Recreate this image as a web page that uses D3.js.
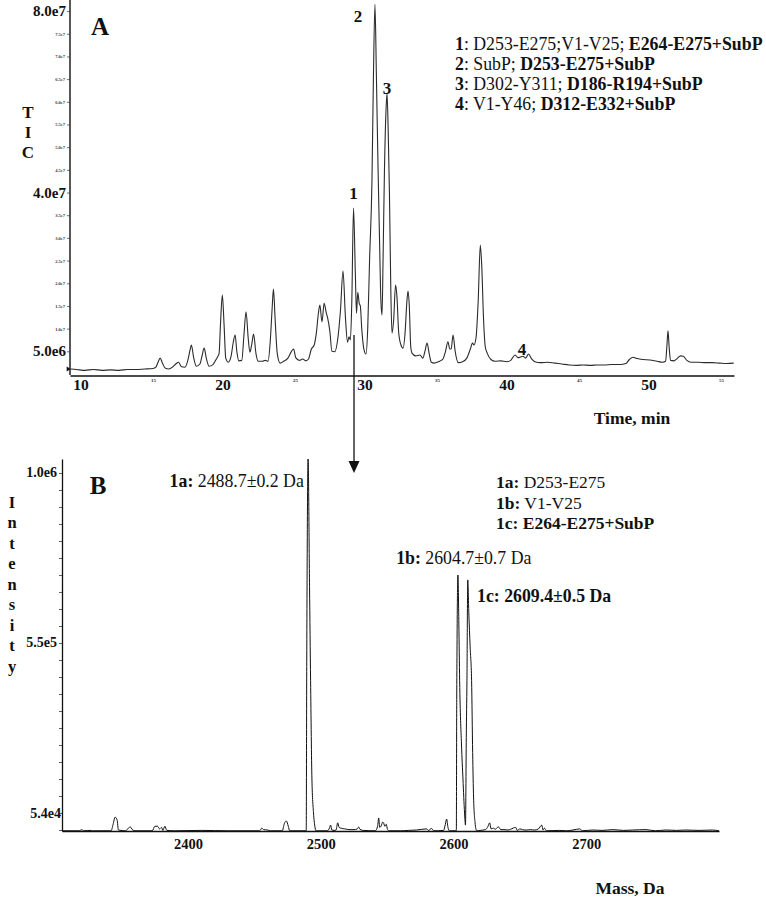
<!DOCTYPE html>
<html><head><meta charset="utf-8">
<script src="https://cdn.jsdelivr.net/npm/d3@7"></script>
<style>
html,body{margin:0;padding:0;background:#fff;}
svg{display:block;}
</style></head><body>
<svg id="c" width="766" height="899"></svg>
<script>
// ---------- Panel A: TIC chromatogram ----------
const ticTime = [9.2,9.6,10.2,10.8,11.4,12.0,12.6,13.2,13.8,14.4,15.0,15.2,15.35,15.5,15.65,15.85,16.1,16.4,16.6,16.8,17.0,17.25,17.45,17.6,17.7,17.85,18.05,18.3,18.45,18.6,18.75,18.95,19.2,19.4,19.55,19.65,19.75,19.88,20.0,20.12,20.3,20.5,20.65,20.78,20.9,21.05,21.25,21.4,21.55,21.7,21.82,21.95,22.08,22.25,22.4,22.7,22.9,23.1,23.25,23.38,23.48,23.6,23.75,23.95,24.2,24.5,24.75,24.9,25.05,25.3,25.55,25.75,25.95,26.15,26.35,26.5,26.65,26.75,26.9,27.05,27.2,27.3,27.45,27.6,27.8,28.0,28.2,28.38,28.55,28.7,28.8,28.9,29.0,29.12,29.25,29.33,29.42,29.52,29.6,29.7,29.85,30.0,30.12,30.25,30.42,30.52,30.63,30.73,30.85,30.95,31.05,31.13,31.2,31.3,31.42,31.48,31.56,31.65,31.75,31.83,31.95,32.08,32.18,32.3,32.45,32.61,32.75,32.88,32.96,33.05,33.15,33.24,33.5,33.8,34.0,34.15,34.3,34.45,34.6,34.8,35.1,35.4,35.6,35.77,35.9,36.0,36.13,36.28,36.5,36.8,37.1,37.35,37.5,37.6,37.75,37.9,38.05,38.15,38.28,38.4,38.55,38.8,39.1,39.5,39.9,40.2,40.35,40.5,40.7,40.85,41.05,41.25,41.45,41.65,41.9,42.3,42.8,43.3,43.8,44.3,44.8,45.3,45.8,46.3,46.8,47.3,47.9,48.3,48.55,48.8,49.1,49.5,50.0,50.5,50.9,51.1,51.2,51.27,51.35,51.45,51.7,51.95,52.15,52.35,52.6,52.9,53.4,53.9,54.4,54.9,55.4,55.9];
// intensity in units of 1e6 counts
const ticIntensity = [1.1,1.0,0.8,1.0,0.8,0.9,0.8,1.0,1.0,1.1,1.2,1.5,2.6,3.5,2.5,1.3,1.1,1.6,2.2,2.6,1.6,1.5,3.0,5.2,6.4,3.8,1.7,2.2,4.0,5.7,3.5,1.7,2.0,3.0,3.8,4.5,11.0,17.4,11.0,3.5,2.6,4.0,7.0,8.6,5.0,2.9,3.0,8.5,13.7,8.0,4.8,6.5,8.8,4.5,2.8,2.8,3.0,2.8,7.0,14.0,18.7,12.0,4.5,2.4,2.8,3.5,5.0,5.5,3.6,3.0,3.3,2.9,3.3,5.5,6.4,9.0,13.5,15.2,11.5,15.6,13.5,12.3,9.5,5.0,4.9,7.5,14.0,22.7,12.5,7.0,8.2,7.5,16.0,36.6,22.0,13.4,18.0,15.6,15.0,10.0,5.5,4.4,10.0,25.0,42.7,65.0,81.5,66.0,45.0,30.0,16.0,13.0,25.0,45.0,59.0,61.9,54.0,40.0,18.0,9.0,12.0,19.6,17.0,9.2,6.5,5.7,9.0,16.0,18.3,15.0,6.0,4.6,4.0,4.2,3.5,5.0,6.8,4.5,2.6,2.4,2.7,3.2,5.0,7.1,5.5,5.5,8.6,5.0,2.5,2.7,3.5,5.5,6.8,6.4,8.0,16.0,28.4,24.0,12.0,6.0,4.5,3.2,2.8,2.9,2.7,3.0,3.7,4.2,3.6,3.7,3.9,3.5,4.4,3.4,2.7,2.5,2.6,2.4,2.2,2.0,1.9,2.0,1.9,2.0,2.0,2.1,2.1,2.3,3.2,3.7,3.4,3.2,3.1,2.8,2.6,2.8,6.5,9.5,6.0,3.0,2.9,3.5,4.0,3.9,3.0,2.6,2.6,2.5,2.5,2.4,2.3,2.4];

const ticYMinorTicks = [5e6,1e7,1.5e7,2e7,2.5e7,3e7,3.5e7,4e7,4.5e7,5e7,5.5e7,6e7,6.5e7,7e7,7.5e7,8e7];
const ticYMajorTicks = [8e7,4e7,5e6];
const ticYMajorLabels = ["8.0e7","4.0e7","5.0e6"];
const ticXMajorTicks = [10,20,30,40,50];
const ticXMinorTicks = [15,25,35,45,55];

const peakLabelsA = ["1","2","3","4"];
const peakTimesA = [29.12,30.63,31.48,40.98];

const legendAIds = ["1","2","3","4"];
const legendAPlain = ["D253-E275;V1-V25; ","SubP; ","D302-Y311; ","V1-Y46; "];
const legendABold = ["E264-E275+SubP","D253-E275+SubP","D186-R194+SubP","D312-E332+SubP"];

// ---------- Panel B: deconvoluted mass spectrum ----------
const specMass = [2305,2318,2320,2321,2327,2328,2342,2343.5,2345,2346.5,2347.5,2353,2355,2356.5,2358,2360,2373,2375,2377,2378.5,2380,2381,2382.5,2384,2390,2410,2430,2454,2455.5,2457,2460,2462,2471,2472.5,2474,2475.5,2476.5,2489.0,2489.4,2490.4,2491.5,2492.3,2493.3,2494.5,2495.5,2496.3,2505,2506.5,2507.4,2508.3,2510,2511.5,2512.7,2513.8,2515,2518,2522,2525,2527.5,2528.5,2529.5,2532,2541,2542.8,2543.6,2544.4,2545.5,2546.6,2547.4,2548.2,2549.3,2550.3,2551.5,2560,2566,2572,2579.7,2581,2583.5,2585,2592.5,2593.8,2594.8,2595.8,2596.8,2602.1,2602.4,2603.3,2604.0,2604.6,2606.0,2607.1,2608.3,2609.0,2609.6,2610.1,2610.7,2611.5,2612.5,2613.6,2614.4,2615.1,2616.2,2617.4,2620,2624,2626,2627.2,2628.3,2630,2631.5,2633,2634,2635.5,2638,2641,2643,2646.8,2648,2650,2652,2655,2658,2661,2664,2666.4,2667.5,2668.5,2670,2680,2685,2690,2695,2697,2705,2712,2720,2728,2735,2745,2752,2760,2768,2775,2785,2795,2800];
const specIntensity = [5.3e4,5.3e4,5.6e4,5.3e4,5.4e4,5.3e4,5.3e4,7.0e4,8.9e4,8.2e4,5.5e4,5.3e4,6.0e4,6.3e4,5.6e4,5.3e4,5.3e4,6.5e4,6.5e4,5.8e4,6.2e4,5.4e4,6.5e4,5.4e4,5.3e4,5.4e4,5.3e4,5.3e4,6.0e4,5.6e4,5.5e4,5.3e4,5.3e4,7.2e4,7.9e4,6.5e4,5.3e4,5.3e4,5.0e5,1.037e6,7.0e5,4.5e5,1.9e5,1.0e5,6.5e4,5.3e4,5.3e4,6.0e4,6.8e4,5.5e4,5.4e4,5.5e4,7.4e4,6.2e4,6.0e4,5.8e4,5.6e4,5.6e4,5.8e4,6.3e4,5.7e4,5.4e4,5.3e4,6.5e4,8.7e4,6.2e4,6.6e4,7.6e4,7.3e4,6.5e4,7.0e4,5.6e4,5.3e4,5.3e4,5.4e4,5.5e4,5.8e4,5.4e4,5.9e4,5.3e4,5.4e4,7.0e4,8.4e4,6.2e4,5.3e4,5.3e4,4.0e5,7.3e5,6.0e5,4.5e5,2.8e5,1.9e5,1.0e5,6.8e4,3.0e5,4.5e5,7.17e5,6.3e5,5.4e5,4.5e5,2.6e5,1.4e5,7.5e4,5.3e4,5.4e4,5.6e4,6.5e4,7.4e4,5.8e4,6.0e4,5.7e4,6.2e4,6.3e4,5.6e4,5.6e4,5.5e4,5.7e4,6.2e4,5.4e4,5.8e4,5.6e4,5.5e4,5.6e4,5.5e4,5.8e4,6.8e4,5.5e4,6.0e4,5.3e4,5.4e4,5.3e4,5.5e4,5.8e4,5.3e4,5.5e4,5.4e4,5.6e4,5.4e4,5.5e4,5.6e4,5.3e4,5.5e4,5.4e4,5.5e4,5.4e4,5.5e4,5.3e4];

const specXTicks = [2400,2500,2600,2700];
const specYLabelValues = [1.0e6,5.5e5,5.4e4];
const specYLabels = ["1.0e6","5.5e5","5.4e4"];

const peakLabelIdsB = ["1a:","1b:","1c:"];
const peakLabelTextB = [" 2488.7±0.2 Da"," 2604.7±0.7 Da"," 2609.4±0.5 Da"];
const peakLabelMassB = [2488.7,2604.7,2609.4];

const legendBIds = ["1a:","1b:","1c:"];
const legendBText = [" D253-E275"," V1-V25"," E264-E275+SubP"];

// ---------- drawing ----------
const FONT = '"Liberation Serif","Times New Roman",serif';
const svg = d3.select("#c").style("font-family", FONT);

function text(x, y, s, size, weight, anchor) {
  return svg.append("text").attr("x", x).attr("y", y)
    .attr("dominant-baseline", "central")
    .attr("text-anchor", anchor || "start")
    .attr("font-size", size).attr("font-weight", weight || "normal")
    .attr("fill", "#111").text(s);
}

// ===== Panel A =====
const xA = d3.scaleLinear().domain([9.15, 55.92]).range([70, 734]);
const yA = d3.scaleLinear().domain([0, 8.2e7]).range([374, 2]);

// y axis (tiny instrument labels; the ones under the large labels are hidden)
const yAxisA = svg.append("g").attr("transform", "translate(70,0)")
  .call(d3.axisLeft(yA).tickValues(ticYMinorTicks).tickSize(3).tickSizeOuter(0).tickPadding(2)
    .tickFormat(d => ticYMajorTicks.includes(d) ? "" : d3.format(".1e")(d).replace("e+", "e")));
yAxisA.select(".domain").attr("stroke", "#111").attr("stroke-width", 1.4).attr("d", "M0,0V375");
yAxisA.selectAll(".tick line").attr("stroke", "#333").attr("stroke-width", 0.7);
yAxisA.selectAll(".tick text").attr("font-size", 4.5).attr("font-family", FONT).attr("font-weight", "bold").attr("fill", "#333");

// x axis
const xAxisA = svg.append("g").attr("transform", "translate(0,375.5)")
  .call(d3.axisBottom(xA).tickValues(ticXMinorTicks).tickSize(0).tickSizeOuter(0).tickPadding(3)
    .tickFormat(d3.format("d")));
xAxisA.select(".domain").attr("stroke", "#111").attr("stroke-width", 1.6);
xAxisA.selectAll(".tick text").attr("font-size", 5).attr("font-family", FONT).attr("font-weight", "bold").attr("fill", "#333");

// big y labels
ticYMajorTicks.forEach((v, i) => text(66, yA(v), ticYMajorLabels[i], 15, "bold", "end"));
// big x labels
ticXMajorTicks.forEach(v => text(xA(v) - 1, 384, String(v), 15.5, "bold", "middle"));

// start marker
svg.append("path")
  .attr("d", `M${xA(ticTime[0]) - 4},${yA(ticIntensity[0] * 1e6) - 2.5}L${xA(ticTime[0])},${yA(ticIntensity[0] * 1e6)}L${xA(ticTime[0]) - 4},${yA(ticIntensity[0] * 1e6) + 2.5}Z`)
  .attr("fill", "#111");

// trace
const ticData = ticTime.map((t, i) => [t, ticIntensity[i] * 1e6]);
svg.append("path").datum(ticData)
  .attr("d", d3.line().x(d => xA(d[0])).y(d => yA(d[1])).curve(d3.curveMonotoneX))
  .attr("fill", "none").attr("stroke", "#2b2b2b").attr("stroke-width", 1.1);

// panel letter + axis titles
text(100, 26, "A", 25, "bold", "middle");
["T", "I", "C"].forEach((c, i) => text(28, 112 + i * 20.3, c, 17, "bold", "middle"));
text(632, 418, "Time, min", 17.5, "bold", "middle");

// peak labels
const peakLabelY = [193, 16, 88, 349];
const peakLabelDx = [0, -17, 0, 0];
peakLabelsA.forEach((s, i) => text(xA(peakTimesA[i]) + peakLabelDx[i], peakLabelY[i], s, 17, "bold", "middle"));

// legend A
legendAIds.forEach((id, i) => {
  const t = svg.append("text").attr("x", 455).attr("y", 43.5 + i * 20.3)
    .attr("dominant-baseline", "central").attr("font-size", 17.8).attr("fill", "#111");
  t.append("tspan").attr("font-weight", "bold").text(id);
  t.append("tspan").text(": " + legendAPlain[i]);
  t.append("tspan").attr("font-weight", "bold").text(legendABold[i]);
});

// arrow linking peak 1 to spectrum
const arrowX = xA(peakTimesA[0]) + 0.5;
svg.append("line").attr("x1", arrowX).attr("x2", arrowX).attr("y1", 335).attr("y2", 463)
  .attr("stroke", "#111").attr("stroke-width", 1.3);
svg.append("path").attr("d", `M${arrowX - 5.5},461L${arrowX + 5.5},461L${arrowX},473Z`).attr("fill", "#111");

// ===== Panel B =====
const xB = d3.scaleLinear().domain([2305, 2800]).range([62, 719]);
const yB = d3.scaleLinear().domain([5.24e4, 1.037e6]).range([831, 459]);

const yAxisB = svg.append("g").attr("transform", "translate(62,0)")
  .call(d3.axisLeft(yB).tickValues(d3.range(0, 22).map(k => 1.0e6 - k * 4.5e4)).tickSize(3).tickSizeOuter(0).tickFormat(""));
yAxisB.select(".domain").attr("stroke", "#111").attr("stroke-width", 1.3);
yAxisB.selectAll(".tick line").attr("stroke", "#333").attr("stroke-width", 0.8);

const xAxisB = svg.append("g").attr("transform", "translate(0,831)")
  .call(d3.axisBottom(xB).tickValues(specXTicks).tickSize(0).tickSizeOuter(0).tickPadding(8).tickFormat(d3.format("d")));
xAxisB.select(".domain").attr("stroke", "#111").attr("stroke-width", 1.3);
xAxisB.selectAll(".tick text").attr("font-size", 14.5).attr("font-family", FONT).attr("font-weight", "bold").attr("fill", "#111");

specYLabelValues.forEach((v, i) => text(i === 2 ? 61 : 57, yB(v) - (i === 2 ? 17 : 0), specYLabels[i], 14, "bold", "end"));

const specData = specMass.map((m, i) => [m, specIntensity[i]]);
svg.append("path").datum(specData)
  .attr("d", d3.line().x(d => xB(d[0])).y(d => yB(d[1])).curve(d3.curveMonotoneX))
  .attr("fill", "none").attr("stroke", "#111").attr("stroke-width", 1);

text(98, 485, "B", 25, "bold", "middle");
"Intensity".split("").forEach((c, i) => text(12, 502 + i * 20.5, c, 16.5, "bold", "middle"));
text(630, 888, "Mass, Da", 17.5, "bold", "middle");

// peak annotations
const pkAnchor = ["end", "middle", "start"];
const pkDx = [-2, 4, 11];
const pkY = [481, 558, 596];
const pkBold = [false, false, true];
peakLabelIdsB.forEach((id, i) => {
  const t = svg.append("text").attr("x", xB(peakLabelMassB[i]) + pkDx[i]).attr("y", pkY[i])
    .attr("dominant-baseline", "central").attr("text-anchor", pkAnchor[i])
    .attr("font-size", 17.8).attr("fill", "#111");
  t.append("tspan").attr("font-weight", "bold").text(id);
  t.append("tspan").attr("font-weight", pkBold[i] ? "bold" : "normal").text(peakLabelTextB[i]);
});

// legend B
legendBIds.forEach((id, i) => {
  const t = svg.append("text").attr("x", 496).attr("y", 482 + i * 20.5)
    .attr("dominant-baseline", "central").attr("font-size", 17.5).attr("fill", "#111");
  t.append("tspan").attr("font-weight", "bold").text(id);
  t.append("tspan").attr("font-weight", i === 2 ? "bold" : "normal").text(legendBText[i]);
});
</script>
</body></html>
